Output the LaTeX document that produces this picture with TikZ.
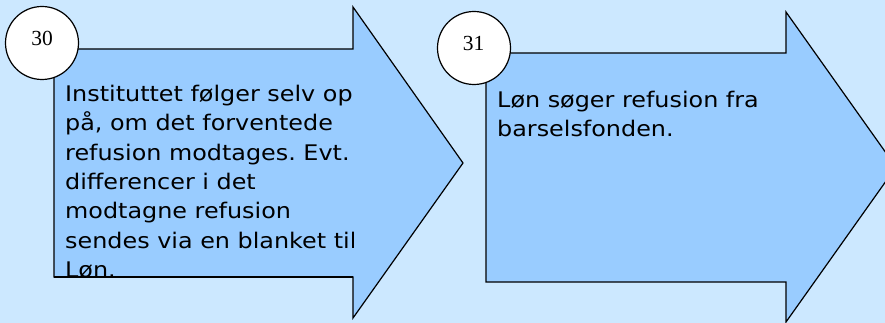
\documentclass[tikz,border=0pt]{standalone}
\usepackage{fontspec}
\setmainfont{Liberation Serif}
\newfontfamily\bodyfont[FakeStretch=1.11]{DejaVu Sans}
\definecolor{bgblue}{RGB}{204,232,255}
\definecolor{arrowblue}{RGB}{153,204,255}
\begin{document}
\begin{tikzpicture}[x=1pt,y=-1pt,
  arrowshape/.style={fill=arrowblue,draw=black,line width=1.2pt,line join=miter},
  numcircle/.style={circle,draw=black,fill=white,line width=1.2pt,minimum size=73pt,inner sep=0pt},
  numtext/.style={font=\fontsize{21.5}{24}\selectfont,inner sep=0pt},
  bodytext/.style={font=\bodyfont\fontsize{21.5}{29.3}\selectfont\frenchspacing,align=left,inner sep=0pt,anchor=north west}]
\fill[bgblue] (0,0) rectangle (885,323);
\useasboundingbox (0,0) rectangle (885,323);
% arrow 1
\draw[arrowshape] (54,49) -- (353,49) -- (353,7) -- (463,163) -- (353,318) -- (353,277) -- (54,277) -- cycle;
% arrow 2
\begin{scope}
\clip (0,0) rectangle (885,323);
\draw[arrowshape] (486,53) -- (786,53) -- (786,12) -- (896,167) -- (786,322) -- (786,282) -- (486,282) -- cycle;
\end{scope}
% text 1 (clipped by bottom edge)
\begin{scope}
\clip (54,49) rectangle (353,277);
\node[bodytext] (t1) at (65,85) {Instituttet følger selv op\\på, om det forventede\\refusion modtages. Evt.\\differencer i det\\modtagne refusion\\sendes via en blanket til\\Løn.};
\end{scope}
\draw[line width=1.2pt] (54,277) -- (353,277);
% text 2
\node[bodytext] (t2) at (497,90.5) {Løn søger refusion fra\\barselsfonden.};
% circles
\node[numcircle] (c1) at (42,43) {};
\node[numtext] (n1) at (42,38) {30};
\node[numcircle] (c2) at (474,48) {};
\node[numtext] (n2) at (473.5,43.5) {31};
\end{tikzpicture}
\end{document}
